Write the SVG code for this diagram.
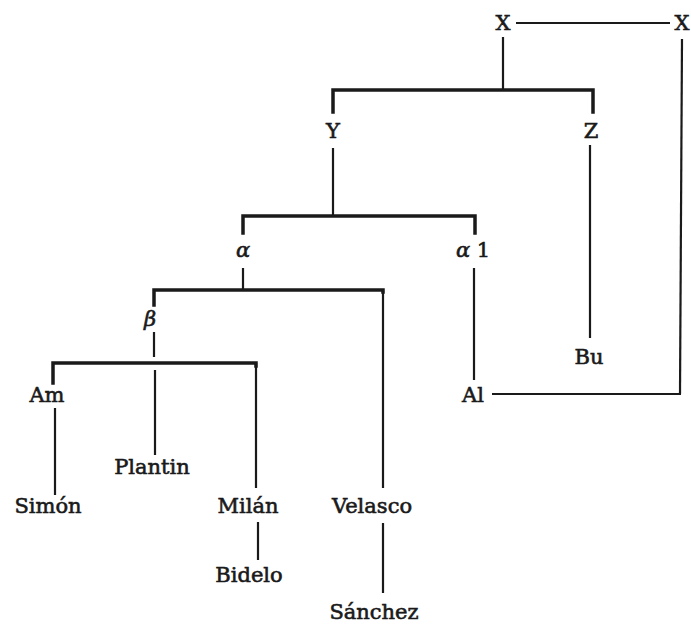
<svg xmlns="http://www.w3.org/2000/svg" width="691" height="624" viewBox="0 0 691 624">
<style>
text{font-family:"DejaVu Serif","Liberation Serif",serif;font-size:21px;fill:#1a1a1a;stroke:#1a1a1a;stroke-width:0.6;text-anchor:middle}
.g{font-style:italic}
.thin{stroke:#1a1a1a;stroke-width:2.2;fill:none}
.bar{stroke:#1a1a1a;stroke-width:3.5;fill:none;stroke-linecap:square}
</style>
<rect width="691" height="624" fill="#fff"/>
<g id="connectors">
<path class="thin" stroke-width="2.5" d="M516,23H670"/>
<path class="thin" d="M503,37V90"/>
<path class="bar" d="M333,112V90H593V112"/>
<path class="thin" d="M333,148V215"/>
<path class="thin" d="M590,145V338"/>
<path class="bar" d="M243,233V216H475V233"/>
<path class="thin" d="M243,268V290"/>
<path class="bar" d="M154,305V290H383V292"/>
<path class="thin" d="M383,290V488"/>
<path class="thin" d="M154,332V357"/>
<path class="bar" d="M53,383V363H256V366"/>
<path class="thin" d="M256,363V488"/>
<path class="thin" d="M155,370V455"/>
<path class="thin" d="M474,268V380"/>
<path class="thin" d="M682,39L680,394"/>
<path class="thin" stroke-width="3" d="M492,394H681"/>
<path class="thin" d="M55,408V495"/>
<path class="thin" d="M258,522V560"/>
<path class="thin" d="M383,523V593"/>
</g>
<g id="X1"><text x="503" y="30">X</text></g>
<g id="X2"><text x="682" y="30">X</text></g>
<g id="Y"><text x="333" y="138">Y</text></g>
<g id="Z"><text x="591" y="138">Z</text></g>
<g id="alpha"><text class="g" x="243" y="257">α</text></g>
<g id="alpha1"><text x="473" y="257"><tspan class="g">α</tspan> 1</text></g>
<g id="beta"><text class="g" x="150" y="326">β</text></g>
<g id="Am"><text x="47" y="402">Am</text></g>
<g id="Al"><text x="473" y="402">Al</text></g>
<g id="Bu"><text x="589" y="364">Bu</text></g>
<g id="Plantin"><text x="152" y="474">Plantin</text></g>
<g id="Simon"><text x="48" y="513">Simón</text></g>
<g id="Milan"><text x="248" y="513">Milán</text></g>
<g id="Velasco"><text x="372" y="513">Velasco</text></g>
<g id="Bidelo"><text x="249" y="582">Bidelo</text></g>
<g id="Sanchez"><text x="374" y="619">Sánchez</text></g>
</svg>
